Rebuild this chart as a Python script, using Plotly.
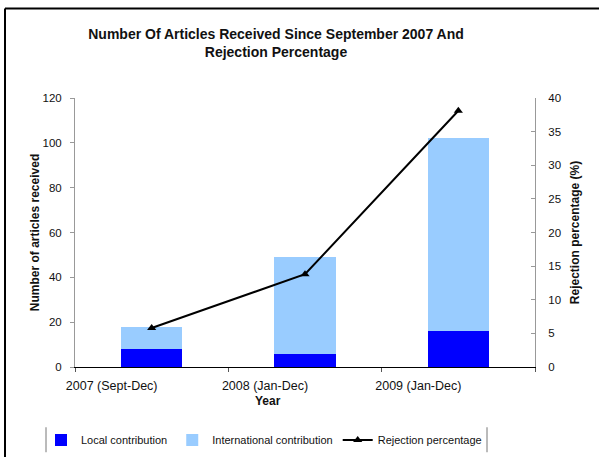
import plotly.graph_objects as go

categories = ["2007 (Sept-Dec)", "2008 (Jan-Dec)", "2009 (Jan-Dec)"]
local_contribution = [8, 6, 16]
international_contribution = [10, 43, 86]
rejection_percentage = [5.8, 13.8, 38.1]

FONT = "Liberation Sans, Arial, sans-serif"

# plot area in pixels
L, R, T, B = 75, 535, 97.5, 366.7
W, H = 599, 457

def px(x):
    return (x - L) / (R - L)

def py(y):
    return (B - y) / (B - T)

fig = go.Figure()
fig.add_trace(go.Bar(x=categories, y=local_contribution, name="Local contribution",
                     marker=dict(color="#0000FF", line=dict(width=0)), width=0.4))
fig.add_trace(go.Bar(x=categories, y=international_contribution, name="International contribution",
                     marker=dict(color="#99CCFF", line=dict(width=0)), width=0.4))
fig.add_trace(go.Scatter(x=categories, y=rejection_percentage, name="Rejection percentage",
                         yaxis="y2", mode="lines+markers",
                         line=dict(color="black", width=2),
                         marker=dict(symbol="triangle-up", size=8, color="black")))

fig.update_layout(
    width=W, height=H,
    margin=dict(l=L, r=W - R, t=T, b=H - B, pad=0, autoexpand=False),
    barmode="stack",
    plot_bgcolor="white", paper_bgcolor="white",
    font=dict(family=FONT, size=11, color="#111"),
    title=dict(text="<b>Number Of Articles Received Since September 2007 And<br>Rejection Percentage</b>",
               x=276 / W, xref="container", xanchor="center", y=1 - 39 / H, yref="container",
               yanchor="middle", font=dict(family=FONT, size=14, color="#111")),
    xaxis=dict(showline=True, linecolor="black", linewidth=1, ticks="outside",
               ticklen=4, tickcolor="#555", tickson="boundaries", showgrid=False,
               ticklabelshift=-40, ticklabelstandoff=7, tickfont=dict(size=12.5),
               automargin=False),
    yaxis=dict(range=[0, 120], dtick=20, showline=True, linecolor="#999", linewidth=1,
               ticks="outside", ticklen=4, tickcolor="#999", showgrid=False, zeroline=False,
               ticklabelstandoff=6, tickfont=dict(size=11.5), automargin=False,
               title=dict(text="<b>Number of articles received</b>", standoff=0,
                          font=dict(size=12))),
    yaxis2=dict(range=[0, 40], dtick=5, overlaying="y", side="right", showline=True,
                linecolor="#999", linewidth=1, ticks="inside", ticklen=4, tickcolor="#999",
                showgrid=False, zeroline=False, ticklabelstandoff=10, tickfont=dict(size=11.5),
                automargin=False,
                title=dict(text="<b>Rejection percentage (%)</b>", standoff=10,
                           font=dict(size=12))),
    legend=dict(orientation="h", x=264 / W, xref="container", xanchor="center",
                y=1 - 440 / H, yref="container", yanchor="middle",
                font=dict(size=11), itemwidth=30, traceorder="normal",
                bgcolor="rgba(0,0,0,0)"),
    showlegend=True,
)

fig.add_annotation(text="<b>Year</b>", x=px(268), y=py(401), xref="paper", yref="paper",
                   xanchor="center", yanchor="middle",
                   showarrow=False, font=dict(size=12, family=FONT, color="#111"))

# outer frame (left & top) and legend separators
fig.add_shape(type="line", xref="paper", yref="paper", x0=px(5), x1=px(5), y0=py(8), y1=py(470),
              line=dict(color="black", width=2))
fig.add_shape(type="line", xref="paper", yref="paper", x0=px(5), x1=px(620), y0=py(8), y1=py(8),
              line=dict(color="black", width=2))
for xv in (46, 487):
    fig.add_shape(type="line", xref="paper", yref="paper", x0=px(xv), x1=px(xv),
                  y0=py(427), y1=py(452), line=dict(color="#777", width=1))

fig.write_html("out.html", config={"displayModeBar": False},
               post_script="document.body.style.margin='0';")
